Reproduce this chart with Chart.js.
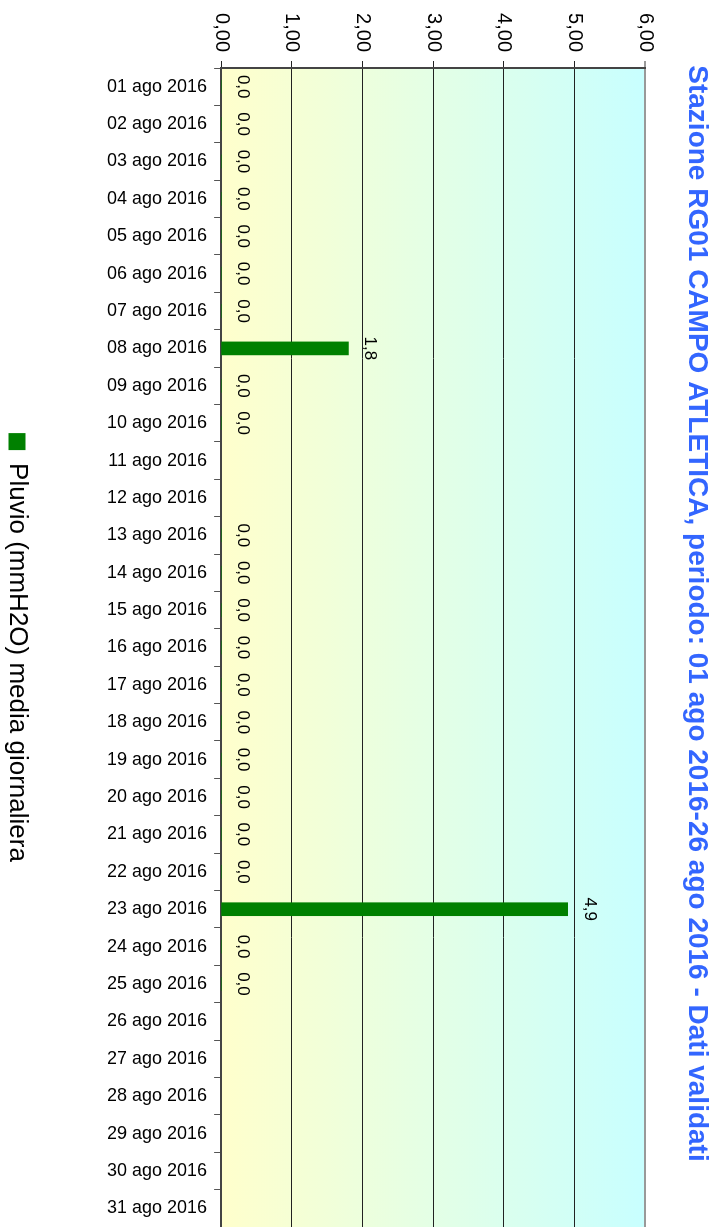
<!DOCTYPE html>
<html>
<head>
<meta charset="utf-8">
<script src="https://cdn.jsdelivr.net/npm/chart.js@4.4.1/dist/chart.umd.min.js"></script>
<style>
    html, body { margin: 0; padding: 0; background: #fff; overflow: hidden; width: 720px; height: 1227px; }
    #wrap {
        position: absolute; left: 0; top: 0;
        width: 1227px; height: 720px;
        transform-origin: 0 0;
        transform: translateX(720px) rotate(90deg);
    }
</style>
</head>
<body>
<div id="wrap"><canvas id="pluvioChart" width="1227" height="720"></canvas></div>
<script>
// --- dati ---
const giorni = [
    '01 ago 2016', '02 ago 2016', '03 ago 2016', '04 ago 2016', '05 ago 2016', '06 ago 2016',
    '07 ago 2016', '08 ago 2016', '09 ago 2016', '10 ago 2016', '11 ago 2016', '12 ago 2016',
    '13 ago 2016', '14 ago 2016', '15 ago 2016', '16 ago 2016', '17 ago 2016', '18 ago 2016',
    '19 ago 2016', '20 ago 2016', '21 ago 2016', '22 ago 2016', '23 ago 2016', '24 ago 2016',
    '25 ago 2016', '26 ago 2016', '27 ago 2016', '28 ago 2016', '29 ago 2016', '30 ago 2016',
    '31 ago 2016'
];
const pluvio = [
    0, 0, 0, 0, 0, 0, 0, 1.8, 0, 0, null, null,
    0, 0, 0, 0, 0, 0, 0, 0, 0, 0, 4.9, 0, 0,
    null, null, null, null, null, null
];
const tickValori = ['0,00', '1,00', '2,00', '3,00', '4,00', '5,00', '6,00'];

const titolo = 'Stazione RG01 CAMPO ATLETICA, periodo: 01 ago 2016-26 ago 2016 - Dati validati';
const nomeSerie = 'Pluvio (mmH2O) media giornaliera';

const FONT = '"Liberation Sans", Arial, sans-serif';
Chart.defaults.font.family = FONT;
Chart.defaults.color = '#000';

// sfondo sfumato giallo -> azzurro nell'area del grafico
const sfondoPlugin = {
    id: 'sfondo',
    beforeDraw(chart) {
        const { ctx, chartArea: a } = chart;
        const g = ctx.createLinearGradient(0, a.bottom, 0, a.top);
        g.addColorStop(0, '#ffffcc');
        g.addColorStop(1, '#c8ffff');
        ctx.save();
        ctx.fillStyle = g;
        ctx.fillRect(a.left, a.top, a.right - a.left, a.bottom - a.top);
        ctx.restore();
    }
};

// etichette dei valori sopra le barre
const etichettePlugin = {
    id: 'etichette',
    afterDatasetsDraw(chart) {
        const { ctx } = chart;
        const meta = chart.getDatasetMeta(0);
        ctx.save();
        ctx.font = '17px ' + FONT;
        ctx.fillStyle = '#000';
        ctx.textAlign = 'center';
        ctx.textBaseline = 'alphabetic';
        meta.data.forEach((bar, i) => {
            const v = pluvio[i];
            if (v === null) return;
            ctx.fillText(v.toFixed(1).replace('.', ','), bar.x, bar.y - 17);
        });
        ctx.restore();
    }
};

const ctx = document.getElementById('pluvioChart').getContext('2d');
new Chart(ctx, {
    type: 'bar',
    data: {
        labels: giorni,
        datasets: [{
            label: nomeSerie,
            data: pluvio,
            backgroundColor: '#008000',
            borderWidth: 0,
            barThickness: 13
        }]
    },
    options: {
        responsive: false,
        animation: false,
        layout: { autoPadding: false, padding: { top: 0, left: 0, right: 0, bottom: -6 } },
        plugins: {
            title: {
                display: true,
                text: titolo,
                color: '#3366ff',
                font: { size: 28, weight: 'bold' },
                padding: { top: 6, bottom: 35 }
            },
            legend: {
                position: 'bottom',
                fullSize: false,
                labels: {
                    font: { size: 26 },
                    boxWidth: 17,
                    boxHeight: 17,
                    padding: 70,
                    color: '#000'
                }
            },
            tooltip: { enabled: false }
        },
        scales: {
            x: {
                type: 'category',
                offset: true,
                afterFit: (s) => { s.paddingLeft = 0; s.paddingRight = 0; },
                ticks: {
                    autoSkip: false,
                    minRotation: 90,
                    maxRotation: 90,
                    padding: 7,
                    font: { size: 18 },
                    color: '#000'
                },
                grid: {
                    offset: true,
                    drawOnChartArea: false,
                    drawTicks: true,
                    tickLength: 7,
                    color: '#555'
                },
                border: { color: '#444', width: 2 }
            },
            y: {
                min: 0,
                max: 6,
                afterFit: (s) => { s.width = 68; },
                ticks: {
                    stepSize: 1,
                    padding: 9,
                    font: { size: 20 },
                    color: '#000',
                    callback: (v, i) => tickValori[i]
                },
                grid: {
                    tickLength: 7,
                    color: (c) => (c.tick && c.tick.value === 6 ? '#999' : '#222'),
                    lineWidth: (c) => (c.tick && c.tick.value === 6 ? 2 : 1)
                },
                border: { color: '#444', width: 2 }
            }
        }
    },
    plugins: [sfondoPlugin, etichettePlugin]
});
</script>
</body>
</html>
